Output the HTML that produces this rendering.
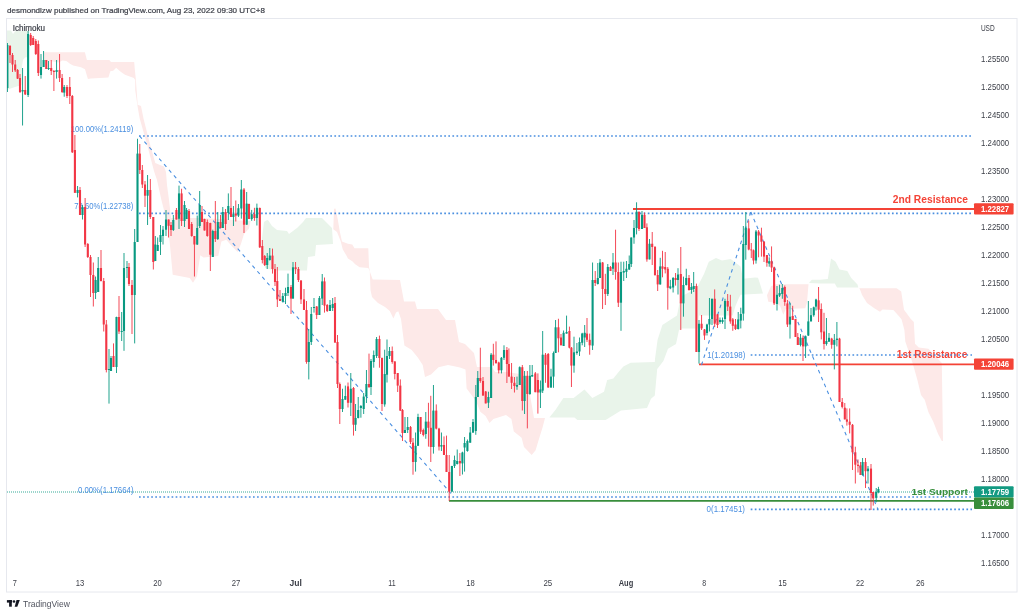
<!DOCTYPE html><html><head><meta charset="utf-8"><title>EURUSD chart</title>
<style>html,body{margin:0;padding:0;background:#fff;}svg{display:block;}</style></head><body>
<svg width="1024" height="616" viewBox="0 0 1024 616" font-family='"Liberation Sans", Arial, sans-serif'>
<rect x="0" y="0" width="1024" height="616" fill="#ffffff"/>
<g>
<polygon points="6.5,30.5 11.0,30.5 13.0,34.0 15.5,31.0 28.5,31.0 28.5,57.0 25.0,57.5 23.0,60.0 22.0,66.0 21.5,85.0 12.0,88.0 6.5,90.0" fill="#e9f4ea"/>
<polygon points="262.0,238.0 264.0,222.0 266.0,220.5 268.0,220.0 272.0,226.0 277.0,230.0 287.0,231.0 289.0,234.0 297.0,228.0 303.0,222.0 306.0,218.0 322.0,218.0 332.0,228.0 333.0,244.0 316.0,245.0 315.0,256.0 308.0,257.0 307.0,270.5 275.0,270.5 265.0,268.0 262.0,250.0" fill="#e9f4ea"/>
<polygon points="549.4,417.5 555.6,409.7 563.4,398.0 573.6,398.0 584.5,389.4 592.3,398.0 604.0,391.7 607.2,380.0 613.4,378.4 619.0,371.4 623.4,366.6 630.6,362.8 654.8,362.0 655.0,359.0 657.6,339.8 662.4,325.0 677.0,315.4 679.5,303.0 682.0,296.0 696.6,288.5 704.0,274.0 708.8,261.7 716.0,258.0 722.0,260.5 730.7,259.0 740.5,266.6 743.0,278.8 755.0,277.6 758.0,277.7 760.0,283.7 763.0,293.6 740.5,294.7 738.0,299.9 735.3,306.4 732.7,315.5 699.0,315.5 697.7,328.4 682.0,328.4 679.0,330.0 676.0,344.0 668.0,348.8 663.4,361.0 657.2,369.0 654.8,395.6 651.0,398.8 647.0,408.0 621.0,410.5 605.6,420.0 577.5,420.0 574.4,417.5" fill="#e9f4ea"/>
<polygon points="809.0,283.0 811.8,279.8 820.0,279.7 827.8,279.0 831.0,258.6 835.6,261.7 839.5,269.5 847.3,271.0 851.2,278.0 857.5,284.4 858.3,287.5 837.0,287.5 834.8,283.6 820.0,283.4" fill="#e9f4ea"/>
<polygon points="43.9,52.2 84.9,52.2 86.9,60.0 109.3,60.0 111.0,62.0 134.2,62.0 134.8,69.3 135.8,79.0 137.7,104.8 141.0,106.0 143.6,119.0 150.4,145.8 155.3,163.0 160.0,165.0 164.0,166.5 166.0,172.0 167.0,185.0 169.0,200.0 171.0,218.0 197.0,218.0 220.0,219.0 247.0,221.0 250.6,221.0 249.0,228.4 244.0,234.0 241.0,243.8 237.7,252.0 231.2,245.5 226.3,239.8 221.4,241.4 218.2,256.0 203.6,257.6 200.3,255.2 197.0,276.3 193.0,282.8 189.8,278.0 172.7,274.7 170.3,248.7 169.5,240.6 166.0,218.0 161.4,200.0 157.0,180.0 154.3,172.0 152.4,165.0 147.5,146.0 139.7,118.5 137.5,106.0 135.2,90.0 135.2,80.0 133.8,78.0 125.0,74.7 120.0,71.2 116.2,67.8 113.2,70.8 110.3,71.2 108.4,77.6 90.8,78.6 87.9,79.0 85.0,69.3 81.0,67.3 73.2,65.4 70.3,64.0 66.4,61.0 62.5,60.5 58.5,62.5 43.9,60.0" fill="#fde9e8"/>
<polygon points="335.5,208.5 337.7,219.0 339.9,232.0 342.0,241.6 347.9,243.8 352.3,244.5 354.5,248.2 368.3,248.2 369.0,267.0 370.0,272.0 372.7,279.6 400.0,280.0 404.0,301.5 415.0,301.5 417.0,309.0 438.0,309.0 446.0,320.0 455.0,320.0 459.0,342.0 465.0,344.0 474.0,353.0 477.0,367.0 492.0,367.0 495.0,372.0 507.0,372.0 520.0,374.0 530.0,395.0 534.0,418.0 545.0,418.0 542.7,427.0 538.8,439.4 535.6,450.3 531.7,455.0 524.0,447.0 521.6,437.8 513.8,431.6 511.4,419.0 506.0,415.0 493.4,419.0 489.5,423.0 485.6,416.0 480.3,411.7 476.0,401.0 466.6,388.5 465.5,369.5 460.0,367.4 453.0,366.0 448.0,365.0 438.5,367.3 431.0,374.6 425.0,377.0 422.7,365.0 417.8,357.6 411.7,350.0 404.4,345.4 401.0,319.0 398.3,311.2 396.0,312.4 393.4,318.5 389.8,311.0 385.0,307.0 378.0,303.0 372.0,297.0 370.5,290.0 369.8,271.5 368.3,267.9 359.6,267.2 355.2,264.2 352.3,261.3 347.9,258.4 346.4,255.5 342.8,249.6 340.6,240.9 337.0,232.0 333.3,229.2 334.0,208.8" fill="#fde9e8"/>
<polygon points="771.0,286.3 776.0,284.2 808.5,284.2 807.0,302.5 805.3,308.2 785.8,309.0 783.3,314.7 780.0,305.8 773.6,302.5 768.3,301.7 767.0,295.2" fill="#fde9e8"/>
<polygon points="859.0,288.3 896.6,288.3 901.2,291.4 902.8,302.0 904.0,309.7 910.6,318.8 913.8,322.0 915.0,343.8 918.7,347.4 928.4,348.7 941.8,363.0 943.0,441.0 941.8,441.0 938.0,433.8 933.3,421.7 928.4,412.0 924.7,399.8 921.0,395.0 917.4,380.0 912.6,363.0 905.3,341.4 904.4,330.0 901.6,319.5 899.7,317.0 893.4,310.0 882.5,309.4 880.0,311.7 874.7,308.6 867.0,303.0 862.2,295.3 859.8,289.0" fill="#fde9e8"/>
</g>
<line x1="7" y1="492" x2="974" y2="492" stroke="#089981" stroke-width="1.8" stroke-dasharray="1,1" opacity="0.4"/>
<line x1="633" y1="209" x2="974" y2="209" stroke="#f44336" stroke-width="1.8"/>
<line x1="699" y1="364.3" x2="974" y2="364.3" stroke="#f44336" stroke-width="1.8"/>
<line x1="449" y1="500.8" x2="974" y2="500.8" stroke="#388e3c" stroke-width="1.8"/>
<text x="968" y="202.8" font-size="10.0" fill="#f44336" text-anchor="end" font-weight="bold" textLength="75.2" lengthAdjust="spacingAndGlyphs">2nd Resistance</text>
<text x="967.3" y="358.2" font-size="10.0" fill="#f44336" text-anchor="end" font-weight="bold" textLength="70.5" lengthAdjust="spacingAndGlyphs">1st Resistance</text>
<text x="967.8" y="494.9" font-size="9.7" fill="#388e3c" text-anchor="end" font-weight="bold" textLength="56.3" lengthAdjust="spacingAndGlyphs">1st Support</text>
<line x1="139" y1="136" x2="972" y2="136" stroke="#4a8fe0" stroke-width="1.7" stroke-dasharray="1.7,2.37" opacity="1"/>
<line x1="139" y1="213.3" x2="972" y2="213.3" stroke="#4a8fe0" stroke-width="1.7" stroke-dasharray="1.7,2.37" opacity="1"/>
<line x1="139" y1="497" x2="972" y2="497" stroke="#4a8fe0" stroke-width="1.7" stroke-dasharray="1.7,2.37" opacity="1"/>
<line x1="750.7" y1="355" x2="972" y2="355" stroke="#4a8fe0" stroke-width="1.7" stroke-dasharray="1.7,2.37" opacity="1"/>
<line x1="750.7" y1="509.3" x2="972" y2="509.3" stroke="#4a8fe0" stroke-width="1.7" stroke-dasharray="1.7,2.37" opacity="1"/>
<polyline points="139.5,136 451,493.5" fill="none" stroke="#4a8fe0" stroke-width="1.1" stroke-dasharray="3.6,3.875"/>
<polyline points="701.5,365 750.8,212" fill="none" stroke="#4a8fe0" stroke-width="1.1" stroke-dasharray="3.6,3.875"/>
<polyline points="750.8,212 877.8,509" fill="none" stroke="#4a8fe0" stroke-width="1.1" stroke-dasharray="3.6,3.875"/>
<text x="133.3" y="131.8" font-size="8.6" fill="#4a8fe0" text-anchor="end" font-weight="normal" textLength="62.5" lengthAdjust="spacingAndGlyphs">100.00%(1.24119)</text>
<text x="133.3" y="209.2" font-size="8.6" fill="#4a8fe0" text-anchor="end" font-weight="normal" textLength="59" lengthAdjust="spacingAndGlyphs">78.60%(1.22738)</text>
<text x="133.5" y="493.3" font-size="8.6" fill="#4a8fe0" text-anchor="end" font-weight="normal" textLength="55.6" lengthAdjust="spacingAndGlyphs">0.00%(1.17664)</text>
<text x="707.2" y="357.7" font-size="8.5" fill="#4a8fe0" text-anchor="start" font-weight="normal" textLength="38.1" lengthAdjust="spacingAndGlyphs">1(1.20198)</text>
<text x="706.6" y="512.1" font-size="8.5" fill="#4a8fe0" text-anchor="start" font-weight="normal" textLength="38.4" lengthAdjust="spacingAndGlyphs">0(1.17451)</text>
<g>
<rect x="6.95" y="43.00" width="0.9" height="49.00" fill="#089981"/>
<rect x="6.35" y="45.00" width="2.1" height="43.00" fill="#089981"/>
<rect x="9.55" y="45.00" width="0.9" height="18.00" fill="#f23645"/>
<rect x="8.95" y="46.00" width="2.1" height="9.00" fill="#f23645"/>
<rect x="12.05" y="53.00" width="0.9" height="19.00" fill="#f23645"/>
<rect x="11.45" y="55.00" width="2.1" height="9.50" fill="#f23645"/>
<rect x="14.75" y="60.00" width="0.9" height="12.00" fill="#f23645"/>
<rect x="14.15" y="64.50" width="2.1" height="5.90" fill="#f23645"/>
<rect x="17.15" y="69.00" width="0.9" height="10.00" fill="#f23645"/>
<rect x="16.55" y="70.00" width="2.1" height="8.60" fill="#f23645"/>
<rect x="19.55" y="74.00" width="0.9" height="19.00" fill="#f23645"/>
<rect x="18.95" y="78.00" width="2.1" height="14.00" fill="#f23645"/>
<rect x="22.15" y="68.00" width="0.9" height="57.50" fill="#089981"/>
<rect x="21.55" y="90.00" width="2.1" height="1.50" fill="#089981"/>
<rect x="24.75" y="76.00" width="0.9" height="19.00" fill="#f23645"/>
<rect x="24.15" y="90.00" width="2.1" height="4.40" fill="#f23645"/>
<rect x="27.65" y="31.00" width="0.9" height="66.00" fill="#089981"/>
<rect x="27.05" y="34.00" width="2.1" height="61.00" fill="#089981"/>
<rect x="30.25" y="33.00" width="0.9" height="13.00" fill="#f23645"/>
<rect x="29.65" y="35.00" width="2.1" height="10.00" fill="#f23645"/>
<rect x="32.75" y="36.00" width="0.9" height="9.00" fill="#f23645"/>
<rect x="32.15" y="38.00" width="2.1" height="7.00" fill="#f23645"/>
<rect x="35.35" y="39.00" width="0.9" height="16.00" fill="#f23645"/>
<rect x="34.75" y="41.00" width="2.1" height="13.00" fill="#f23645"/>
<rect x="37.85" y="40.50" width="0.9" height="35.50" fill="#f23645"/>
<rect x="37.25" y="44.00" width="2.1" height="29.00" fill="#f23645"/>
<rect x="40.55" y="54.00" width="0.9" height="24.60" fill="#089981"/>
<rect x="39.95" y="67.00" width="2.1" height="8.00" fill="#089981"/>
<rect x="43.15" y="51.00" width="0.9" height="16.00" fill="#089981"/>
<rect x="42.55" y="60.00" width="2.1" height="7.00" fill="#089981"/>
<rect x="45.85" y="60.00" width="0.9" height="9.00" fill="#f23645"/>
<rect x="45.25" y="60.00" width="2.1" height="9.00" fill="#f23645"/>
<rect x="48.15" y="61.00" width="0.9" height="9.00" fill="#089981"/>
<rect x="47.55" y="68.00" width="2.1" height="1.00" fill="#089981"/>
<rect x="50.75" y="60.00" width="0.9" height="15.00" fill="#f23645"/>
<rect x="50.15" y="68.00" width="2.1" height="3.00" fill="#f23645"/>
<rect x="53.45" y="70.00" width="0.9" height="21.00" fill="#f23645"/>
<rect x="52.85" y="71.00" width="2.1" height="1.00" fill="#f23645"/>
<rect x="56.15" y="60.00" width="0.9" height="18.60" fill="#089981"/>
<rect x="55.55" y="70.00" width="2.1" height="2.00" fill="#089981"/>
<rect x="59.15" y="54.00" width="0.9" height="28.00" fill="#f23645"/>
<rect x="58.55" y="70.00" width="2.1" height="8.00" fill="#f23645"/>
<rect x="61.65" y="74.00" width="0.9" height="19.00" fill="#f23645"/>
<rect x="61.05" y="78.00" width="2.1" height="14.00" fill="#f23645"/>
<rect x="63.75" y="85.00" width="0.9" height="11.70" fill="#089981"/>
<rect x="63.15" y="87.00" width="2.1" height="5.60" fill="#089981"/>
<rect x="66.55" y="85.00" width="0.9" height="13.00" fill="#f23645"/>
<rect x="65.95" y="87.00" width="2.1" height="9.00" fill="#f23645"/>
<rect x="69.35" y="77.00" width="0.9" height="27.00" fill="#f23645"/>
<rect x="68.75" y="87.00" width="2.1" height="9.00" fill="#f23645"/>
<rect x="71.85" y="95.00" width="0.9" height="58.00" fill="#f23645"/>
<rect x="71.25" y="96.00" width="2.1" height="56.30" fill="#f23645"/>
<rect x="74.45" y="135.00" width="0.9" height="58.00" fill="#f23645"/>
<rect x="73.85" y="150.00" width="2.1" height="42.80" fill="#f23645"/>
<rect x="77.15" y="186.00" width="0.9" height="11.40" fill="#089981"/>
<rect x="76.55" y="190.00" width="2.1" height="3.00" fill="#089981"/>
<rect x="79.55" y="187.00" width="0.9" height="28.00" fill="#f23645"/>
<rect x="78.95" y="190.00" width="2.1" height="25.00" fill="#f23645"/>
<rect x="82.05" y="205.00" width="0.9" height="14.50" fill="#089981"/>
<rect x="81.45" y="207.00" width="2.1" height="8.00" fill="#089981"/>
<rect x="84.65" y="198.00" width="0.9" height="49.00" fill="#f23645"/>
<rect x="84.05" y="207.00" width="2.1" height="37.50" fill="#f23645"/>
<rect x="87.35" y="243.00" width="0.9" height="15.00" fill="#f23645"/>
<rect x="86.75" y="244.00" width="2.1" height="13.00" fill="#f23645"/>
<rect x="90.05" y="255.00" width="0.9" height="42.00" fill="#f23645"/>
<rect x="89.45" y="257.00" width="2.1" height="18.00" fill="#f23645"/>
<rect x="92.85" y="262.50" width="0.9" height="44.00" fill="#f23645"/>
<rect x="92.25" y="275.00" width="2.1" height="18.00" fill="#f23645"/>
<rect x="95.15" y="276.50" width="0.9" height="22.50" fill="#089981"/>
<rect x="94.55" y="280.00" width="2.1" height="13.00" fill="#089981"/>
<rect x="97.75" y="257.00" width="0.9" height="35.00" fill="#089981"/>
<rect x="97.15" y="268.00" width="2.1" height="24.00" fill="#089981"/>
<rect x="100.55" y="250.00" width="0.9" height="31.50" fill="#f23645"/>
<rect x="99.95" y="268.00" width="2.1" height="13.00" fill="#f23645"/>
<rect x="103.30" y="278.00" width="0.9" height="53.50" fill="#f23645"/>
<rect x="102.70" y="281.00" width="2.1" height="43.50" fill="#f23645"/>
<rect x="105.85" y="320.00" width="0.9" height="52.40" fill="#f23645"/>
<rect x="105.25" y="324.50" width="2.1" height="45.50" fill="#f23645"/>
<rect x="108.55" y="349.00" width="0.9" height="54.60" fill="#089981"/>
<rect x="107.95" y="369.00" width="2.1" height="1.00" fill="#089981"/>
<rect x="110.55" y="356.00" width="0.9" height="15.00" fill="#089981"/>
<rect x="109.95" y="358.00" width="2.1" height="13.00" fill="#089981"/>
<rect x="113.05" y="343.40" width="0.9" height="23.60" fill="#f23645"/>
<rect x="112.45" y="356.00" width="2.1" height="11.00" fill="#f23645"/>
<rect x="116.05" y="316.70" width="0.9" height="56.30" fill="#089981"/>
<rect x="115.45" y="317.00" width="2.1" height="50.00" fill="#089981"/>
<rect x="118.55" y="296.00" width="0.9" height="38.00" fill="#f23645"/>
<rect x="117.95" y="317.00" width="2.1" height="14.50" fill="#f23645"/>
<rect x="121.25" y="312.00" width="0.9" height="29.00" fill="#089981"/>
<rect x="120.65" y="331.00" width="2.1" height="1.00" fill="#089981"/>
<rect x="123.55" y="253.00" width="0.9" height="97.80" fill="#089981"/>
<rect x="122.95" y="268.00" width="2.1" height="63.00" fill="#089981"/>
<rect x="126.55" y="261.00" width="0.9" height="17.00" fill="#089981"/>
<rect x="125.95" y="267.00" width="2.1" height="1.00" fill="#089981"/>
<rect x="128.55" y="263.00" width="0.9" height="23.00" fill="#f23645"/>
<rect x="127.95" y="267.00" width="2.1" height="17.00" fill="#f23645"/>
<rect x="131.55" y="280.00" width="0.9" height="54.00" fill="#f23645"/>
<rect x="130.95" y="285.00" width="2.1" height="10.00" fill="#f23645"/>
<rect x="134.25" y="229.00" width="0.9" height="114.40" fill="#089981"/>
<rect x="133.65" y="242.00" width="2.1" height="53.00" fill="#089981"/>
<rect x="137.05" y="138.75" width="0.9" height="103.25" fill="#089981"/>
<rect x="136.45" y="153.60" width="2.1" height="88.40" fill="#089981"/>
<rect x="139.35" y="144.00" width="0.9" height="30.00" fill="#f23645"/>
<rect x="138.75" y="153.60" width="2.1" height="16.40" fill="#f23645"/>
<rect x="141.85" y="165.00" width="0.9" height="23.00" fill="#f23645"/>
<rect x="141.25" y="170.00" width="2.1" height="14.50" fill="#f23645"/>
<rect x="144.55" y="181.00" width="0.9" height="26.00" fill="#f23645"/>
<rect x="143.95" y="184.50" width="2.1" height="11.20" fill="#f23645"/>
<rect x="147.15" y="175.00" width="0.9" height="50.00" fill="#089981"/>
<rect x="146.55" y="190.00" width="2.1" height="5.70" fill="#089981"/>
<rect x="149.85" y="179.00" width="0.9" height="40.00" fill="#f23645"/>
<rect x="149.25" y="190.00" width="2.1" height="27.00" fill="#f23645"/>
<rect x="152.85" y="217.00" width="0.9" height="52.50" fill="#f23645"/>
<rect x="152.25" y="217.00" width="2.1" height="45.00" fill="#f23645"/>
<rect x="154.85" y="236.00" width="0.9" height="25.00" fill="#089981"/>
<rect x="154.25" y="244.50" width="2.1" height="16.50" fill="#089981"/>
<rect x="157.25" y="237.50" width="0.9" height="13.50" fill="#089981"/>
<rect x="156.65" y="245.00" width="2.1" height="6.00" fill="#089981"/>
<rect x="160.05" y="225.00" width="0.9" height="30.00" fill="#089981"/>
<rect x="159.45" y="235.00" width="2.1" height="7.00" fill="#089981"/>
<rect x="162.55" y="226.00" width="0.9" height="18.50" fill="#089981"/>
<rect x="161.95" y="229.70" width="2.1" height="6.30" fill="#089981"/>
<rect x="165.55" y="210.00" width="0.9" height="26.00" fill="#089981"/>
<rect x="164.95" y="219.50" width="2.1" height="10.20" fill="#089981"/>
<rect x="168.15" y="219.50" width="0.9" height="18.00" fill="#f23645"/>
<rect x="167.55" y="219.50" width="2.1" height="6.30" fill="#f23645"/>
<rect x="170.55" y="222.00" width="0.9" height="14.00" fill="#f23645"/>
<rect x="169.95" y="225.00" width="2.1" height="5.00" fill="#f23645"/>
<rect x="172.85" y="215.00" width="0.9" height="16.00" fill="#089981"/>
<rect x="172.25" y="220.00" width="2.1" height="10.00" fill="#089981"/>
<rect x="175.95" y="208.00" width="0.9" height="11.50" fill="#f23645"/>
<rect x="175.35" y="210.00" width="2.1" height="9.50" fill="#f23645"/>
<rect x="178.55" y="185.60" width="0.9" height="43.40" fill="#089981"/>
<rect x="177.95" y="193.40" width="2.1" height="25.35" fill="#089981"/>
<rect x="181.15" y="188.75" width="0.9" height="37.25" fill="#f23645"/>
<rect x="180.55" y="193.40" width="2.1" height="27.60" fill="#f23645"/>
<rect x="184.05" y="201.00" width="0.9" height="26.00" fill="#089981"/>
<rect x="183.45" y="205.00" width="2.1" height="16.00" fill="#089981"/>
<rect x="186.15" y="208.00" width="0.9" height="11.00" fill="#089981"/>
<rect x="185.55" y="210.00" width="2.1" height="9.00" fill="#089981"/>
<rect x="188.55" y="209.00" width="0.9" height="20.00" fill="#f23645"/>
<rect x="187.95" y="211.00" width="2.1" height="18.00" fill="#f23645"/>
<rect x="191.25" y="222.00" width="0.9" height="14.70" fill="#f23645"/>
<rect x="190.65" y="224.00" width="2.1" height="12.00" fill="#f23645"/>
<rect x="193.95" y="236.00" width="0.9" height="40.50" fill="#f23645"/>
<rect x="193.35" y="236.00" width="2.1" height="8.50" fill="#f23645"/>
<rect x="196.75" y="215.60" width="0.9" height="29.40" fill="#089981"/>
<rect x="196.15" y="228.00" width="2.1" height="16.50" fill="#089981"/>
<rect x="199.25" y="191.00" width="0.9" height="37.00" fill="#089981"/>
<rect x="198.65" y="205.00" width="2.1" height="21.00" fill="#089981"/>
<rect x="201.55" y="206.00" width="0.9" height="16.00" fill="#f23645"/>
<rect x="200.95" y="212.00" width="2.1" height="10.00" fill="#f23645"/>
<rect x="204.05" y="218.75" width="0.9" height="11.75" fill="#f23645"/>
<rect x="203.45" y="219.00" width="2.1" height="11.50" fill="#f23645"/>
<rect x="206.85" y="219.50" width="0.9" height="17.20" fill="#f23645"/>
<rect x="206.25" y="222.00" width="2.1" height="14.00" fill="#f23645"/>
<rect x="209.85" y="222.70" width="0.9" height="48.30" fill="#f23645"/>
<rect x="209.25" y="223.00" width="2.1" height="31.70" fill="#f23645"/>
<rect x="212.35" y="229.70" width="0.9" height="27.30" fill="#089981"/>
<rect x="211.75" y="231.00" width="2.1" height="26.00" fill="#089981"/>
<rect x="214.85" y="201.00" width="0.9" height="41.00" fill="#f23645"/>
<rect x="214.25" y="231.00" width="2.1" height="8.00" fill="#f23645"/>
<rect x="217.35" y="212.00" width="0.9" height="28.00" fill="#089981"/>
<rect x="216.75" y="222.00" width="2.1" height="17.00" fill="#089981"/>
<rect x="220.05" y="215.00" width="0.9" height="13.00" fill="#f23645"/>
<rect x="219.45" y="222.00" width="2.1" height="6.00" fill="#f23645"/>
<rect x="222.35" y="207.00" width="0.9" height="21.00" fill="#089981"/>
<rect x="221.75" y="212.00" width="2.1" height="16.00" fill="#089981"/>
<rect x="225.15" y="209.00" width="0.9" height="21.00" fill="#f23645"/>
<rect x="224.55" y="212.00" width="2.1" height="12.00" fill="#f23645"/>
<rect x="227.85" y="193.40" width="0.9" height="26.60" fill="#089981"/>
<rect x="227.25" y="206.00" width="2.1" height="7.00" fill="#089981"/>
<rect x="230.55" y="187.00" width="0.9" height="30.00" fill="#f23645"/>
<rect x="229.95" y="208.00" width="2.1" height="9.00" fill="#f23645"/>
<rect x="232.95" y="206.00" width="0.9" height="20.00" fill="#089981"/>
<rect x="232.35" y="214.20" width="2.1" height="2.80" fill="#089981"/>
<rect x="235.35" y="200.50" width="0.9" height="21.00" fill="#f23645"/>
<rect x="234.75" y="213.50" width="2.1" height="2.10" fill="#f23645"/>
<rect x="237.95" y="204.00" width="0.9" height="13.00" fill="#089981"/>
<rect x="237.35" y="208.20" width="2.1" height="7.40" fill="#089981"/>
<rect x="240.85" y="180.00" width="0.9" height="38.70" fill="#089981"/>
<rect x="240.25" y="189.50" width="2.1" height="19.00" fill="#089981"/>
<rect x="243.55" y="188.00" width="0.9" height="45.00" fill="#f23645"/>
<rect x="242.95" y="189.50" width="2.1" height="35.20" fill="#f23645"/>
<rect x="246.25" y="192.00" width="0.9" height="32.70" fill="#089981"/>
<rect x="245.65" y="203.60" width="2.1" height="21.10" fill="#089981"/>
<rect x="248.55" y="203.60" width="0.9" height="15.40" fill="#f23645"/>
<rect x="247.95" y="204.00" width="2.1" height="15.00" fill="#f23645"/>
<rect x="251.25" y="209.90" width="0.9" height="10.90" fill="#089981"/>
<rect x="250.65" y="214.20" width="2.1" height="4.90" fill="#089981"/>
<rect x="253.95" y="207.80" width="0.9" height="13.00" fill="#f23645"/>
<rect x="253.35" y="214.20" width="2.1" height="3.80" fill="#f23645"/>
<rect x="256.45" y="203.60" width="0.9" height="21.90" fill="#089981"/>
<rect x="255.85" y="207.80" width="2.1" height="10.20" fill="#089981"/>
<rect x="259.35" y="207.50" width="0.9" height="40.50" fill="#f23645"/>
<rect x="258.75" y="208.00" width="2.1" height="39.30" fill="#f23645"/>
<rect x="261.85" y="240.00" width="0.9" height="23.40" fill="#f23645"/>
<rect x="261.25" y="246.00" width="2.1" height="14.00" fill="#f23645"/>
<rect x="264.25" y="255.00" width="0.9" height="11.00" fill="#f23645"/>
<rect x="263.65" y="256.00" width="2.1" height="9.00" fill="#f23645"/>
<rect x="266.75" y="253.00" width="0.9" height="16.00" fill="#089981"/>
<rect x="266.15" y="258.00" width="2.1" height="7.00" fill="#089981"/>
<rect x="269.35" y="248.00" width="0.9" height="12.60" fill="#089981"/>
<rect x="268.75" y="255.60" width="2.1" height="4.40" fill="#089981"/>
<rect x="272.05" y="248.60" width="0.9" height="25.00" fill="#f23645"/>
<rect x="271.45" y="255.60" width="2.1" height="13.40" fill="#f23645"/>
<rect x="274.55" y="264.00" width="0.9" height="22.00" fill="#f23645"/>
<rect x="273.95" y="269.00" width="2.1" height="13.00" fill="#f23645"/>
<rect x="276.85" y="267.00" width="0.9" height="40.00" fill="#f23645"/>
<rect x="276.25" y="281.00" width="2.1" height="18.40" fill="#f23645"/>
<rect x="279.55" y="290.00" width="0.9" height="11.00" fill="#f23645"/>
<rect x="278.95" y="299.00" width="2.1" height="2.00" fill="#f23645"/>
<rect x="282.35" y="293.00" width="0.9" height="9.50" fill="#089981"/>
<rect x="281.75" y="296.00" width="2.1" height="5.70" fill="#089981"/>
<rect x="285.05" y="287.70" width="0.9" height="16.30" fill="#089981"/>
<rect x="284.45" y="293.00" width="2.1" height="3.00" fill="#089981"/>
<rect x="287.55" y="273.60" width="0.9" height="22.40" fill="#089981"/>
<rect x="286.95" y="287.00" width="2.1" height="6.00" fill="#089981"/>
<rect x="290.55" y="285.00" width="0.9" height="29.00" fill="#f23645"/>
<rect x="289.95" y="287.00" width="2.1" height="11.60" fill="#f23645"/>
<rect x="292.55" y="262.00" width="0.9" height="36.60" fill="#089981"/>
<rect x="291.95" y="267.30" width="2.1" height="31.30" fill="#089981"/>
<rect x="295.15" y="262.00" width="0.9" height="12.00" fill="#f23645"/>
<rect x="294.55" y="267.30" width="2.1" height="1.70" fill="#f23645"/>
<rect x="297.95" y="267.00" width="0.9" height="15.00" fill="#f23645"/>
<rect x="297.35" y="269.00" width="2.1" height="11.00" fill="#f23645"/>
<rect x="300.55" y="280.00" width="0.9" height="24.00" fill="#f23645"/>
<rect x="299.95" y="280.60" width="2.1" height="18.80" fill="#f23645"/>
<rect x="303.55" y="289.00" width="0.9" height="21.00" fill="#f23645"/>
<rect x="302.95" y="299.40" width="2.1" height="10.60" fill="#f23645"/>
<rect x="306.05" y="301.00" width="0.9" height="62.75" fill="#f23645"/>
<rect x="305.45" y="310.00" width="2.1" height="52.00" fill="#f23645"/>
<rect x="308.35" y="329.00" width="0.9" height="50.40" fill="#089981"/>
<rect x="307.75" y="342.00" width="2.1" height="20.00" fill="#089981"/>
<rect x="310.80" y="307.00" width="0.9" height="38.00" fill="#089981"/>
<rect x="310.20" y="314.00" width="2.1" height="28.00" fill="#089981"/>
<rect x="313.55" y="298.00" width="0.9" height="14.60" fill="#089981"/>
<rect x="312.95" y="307.00" width="2.1" height="1.00" fill="#089981"/>
<rect x="316.25" y="306.00" width="0.9" height="13.00" fill="#f23645"/>
<rect x="315.65" y="306.50" width="2.1" height="8.50" fill="#f23645"/>
<rect x="318.95" y="296.00" width="0.9" height="19.00" fill="#089981"/>
<rect x="318.35" y="298.00" width="2.1" height="17.00" fill="#089981"/>
<rect x="321.75" y="274.00" width="0.9" height="31.00" fill="#089981"/>
<rect x="321.15" y="281.40" width="2.1" height="17.20" fill="#089981"/>
<rect x="324.05" y="277.50" width="0.9" height="35.10" fill="#f23645"/>
<rect x="323.45" y="281.40" width="2.1" height="24.20" fill="#f23645"/>
<rect x="326.75" y="304.00" width="0.9" height="8.00" fill="#f23645"/>
<rect x="326.15" y="305.00" width="2.1" height="6.00" fill="#f23645"/>
<rect x="329.55" y="300.00" width="0.9" height="11.00" fill="#089981"/>
<rect x="328.95" y="305.00" width="2.1" height="6.00" fill="#089981"/>
<rect x="332.25" y="298.00" width="0.9" height="13.00" fill="#089981"/>
<rect x="331.65" y="304.00" width="2.1" height="4.00" fill="#089981"/>
<rect x="334.55" y="297.00" width="0.9" height="45.60" fill="#f23645"/>
<rect x="333.95" y="303.00" width="2.1" height="39.60" fill="#f23645"/>
<rect x="337.05" y="335.00" width="0.9" height="53.00" fill="#f23645"/>
<rect x="336.45" y="342.00" width="2.1" height="42.00" fill="#f23645"/>
<rect x="339.35" y="382.50" width="0.9" height="41.50" fill="#f23645"/>
<rect x="338.75" y="384.00" width="2.1" height="25.00" fill="#f23645"/>
<rect x="342.05" y="388.75" width="0.9" height="23.25" fill="#089981"/>
<rect x="341.45" y="399.00" width="2.1" height="10.00" fill="#089981"/>
<rect x="344.85" y="385.60" width="0.9" height="14.10" fill="#089981"/>
<rect x="344.25" y="396.00" width="2.1" height="3.70" fill="#089981"/>
<rect x="347.55" y="382.50" width="0.9" height="25.00" fill="#f23645"/>
<rect x="346.95" y="386.40" width="2.1" height="16.40" fill="#f23645"/>
<rect x="350.35" y="373.00" width="0.9" height="43.00" fill="#089981"/>
<rect x="349.75" y="388.75" width="2.1" height="14.05" fill="#089981"/>
<rect x="353.05" y="387.00" width="0.9" height="48.60" fill="#f23645"/>
<rect x="352.45" y="388.00" width="2.1" height="36.70" fill="#f23645"/>
<rect x="355.15" y="404.00" width="0.9" height="27.00" fill="#089981"/>
<rect x="354.55" y="418.00" width="2.1" height="6.70" fill="#089981"/>
<rect x="357.75" y="397.00" width="0.9" height="21.40" fill="#089981"/>
<rect x="357.15" y="410.00" width="2.1" height="8.00" fill="#089981"/>
<rect x="360.45" y="405.00" width="0.9" height="12.70" fill="#089981"/>
<rect x="359.85" y="406.00" width="2.1" height="2.00" fill="#089981"/>
<rect x="363.25" y="393.00" width="0.9" height="21.00" fill="#089981"/>
<rect x="362.65" y="396.60" width="2.1" height="12.40" fill="#089981"/>
<rect x="365.95" y="370.00" width="0.9" height="33.00" fill="#089981"/>
<rect x="365.35" y="384.00" width="2.1" height="12.50" fill="#089981"/>
<rect x="368.55" y="353.60" width="0.9" height="34.40" fill="#f23645"/>
<rect x="367.95" y="384.00" width="2.1" height="3.00" fill="#f23645"/>
<rect x="370.55" y="359.00" width="0.9" height="36.00" fill="#089981"/>
<rect x="369.95" y="361.00" width="2.1" height="26.00" fill="#089981"/>
<rect x="373.30" y="350.50" width="0.9" height="17.20" fill="#089981"/>
<rect x="372.70" y="355.00" width="2.1" height="7.00" fill="#089981"/>
<rect x="376.15" y="337.00" width="0.9" height="21.00" fill="#089981"/>
<rect x="375.55" y="339.00" width="2.1" height="17.00" fill="#089981"/>
<rect x="378.95" y="335.60" width="0.9" height="32.10" fill="#f23645"/>
<rect x="378.35" y="339.00" width="2.1" height="19.00" fill="#f23645"/>
<rect x="381.55" y="357.50" width="0.9" height="53.50" fill="#f23645"/>
<rect x="380.95" y="358.00" width="2.1" height="46.00" fill="#f23645"/>
<rect x="384.25" y="349.70" width="0.9" height="57.00" fill="#089981"/>
<rect x="383.65" y="374.00" width="2.1" height="30.40" fill="#089981"/>
<rect x="386.55" y="339.50" width="0.9" height="43.00" fill="#089981"/>
<rect x="385.95" y="356.00" width="2.1" height="18.70" fill="#089981"/>
<rect x="389.05" y="347.00" width="0.9" height="12.00" fill="#089981"/>
<rect x="388.45" y="351.00" width="2.1" height="5.00" fill="#089981"/>
<rect x="391.75" y="346.50" width="0.9" height="17.25" fill="#f23645"/>
<rect x="391.15" y="351.00" width="2.1" height="11.00" fill="#f23645"/>
<rect x="394.35" y="361.40" width="0.9" height="18.00" fill="#f23645"/>
<rect x="393.75" y="361.40" width="2.1" height="12.60" fill="#f23645"/>
<rect x="397.25" y="373.00" width="0.9" height="19.00" fill="#f23645"/>
<rect x="396.65" y="373.00" width="2.1" height="12.60" fill="#f23645"/>
<rect x="399.85" y="379.40" width="0.9" height="31.60" fill="#f23645"/>
<rect x="399.25" y="385.60" width="2.1" height="25.00" fill="#f23645"/>
<rect x="402.05" y="409.00" width="0.9" height="32.00" fill="#f23645"/>
<rect x="401.45" y="410.00" width="2.1" height="23.00" fill="#f23645"/>
<rect x="404.55" y="417.00" width="0.9" height="16.00" fill="#089981"/>
<rect x="403.95" y="430.00" width="2.1" height="3.00" fill="#089981"/>
<rect x="407.25" y="417.00" width="0.9" height="16.00" fill="#089981"/>
<rect x="406.65" y="427.00" width="2.1" height="3.00" fill="#089981"/>
<rect x="410.05" y="426.00" width="0.9" height="18.00" fill="#f23645"/>
<rect x="409.45" y="427.00" width="2.1" height="15.00" fill="#f23645"/>
<rect x="412.55" y="438.00" width="0.9" height="36.70" fill="#f23645"/>
<rect x="411.95" y="442.70" width="2.1" height="19.30" fill="#f23645"/>
<rect x="415.15" y="432.50" width="0.9" height="39.10" fill="#089981"/>
<rect x="414.55" y="445.80" width="2.1" height="16.20" fill="#089981"/>
<rect x="417.55" y="413.75" width="0.9" height="32.05" fill="#089981"/>
<rect x="416.95" y="417.00" width="2.1" height="28.80" fill="#089981"/>
<rect x="420.15" y="417.00" width="0.9" height="17.00" fill="#f23645"/>
<rect x="419.55" y="417.00" width="2.1" height="14.70" fill="#f23645"/>
<rect x="422.85" y="428.60" width="0.9" height="7.80" fill="#f23645"/>
<rect x="422.25" y="430.00" width="2.1" height="5.00" fill="#f23645"/>
<rect x="425.35" y="412.00" width="0.9" height="26.75" fill="#089981"/>
<rect x="424.75" y="421.60" width="2.1" height="12.40" fill="#089981"/>
<rect x="427.95" y="402.80" width="0.9" height="43.80" fill="#f23645"/>
<rect x="427.35" y="421.60" width="2.1" height="6.20" fill="#f23645"/>
<rect x="430.35" y="395.80" width="0.9" height="66.20" fill="#f23645"/>
<rect x="429.75" y="427.80" width="2.1" height="19.20" fill="#f23645"/>
<rect x="432.95" y="385.00" width="0.9" height="68.60" fill="#089981"/>
<rect x="432.35" y="410.60" width="2.1" height="36.40" fill="#089981"/>
<rect x="435.80" y="404.40" width="0.9" height="25.00" fill="#f23645"/>
<rect x="435.20" y="410.60" width="2.1" height="18.00" fill="#f23645"/>
<rect x="438.55" y="427.80" width="0.9" height="22.70" fill="#f23645"/>
<rect x="437.95" y="428.60" width="2.1" height="18.00" fill="#f23645"/>
<rect x="440.95" y="432.50" width="0.9" height="18.50" fill="#089981"/>
<rect x="440.35" y="445.00" width="2.1" height="1.60" fill="#089981"/>
<rect x="443.55" y="436.40" width="0.9" height="18.60" fill="#f23645"/>
<rect x="442.95" y="445.00" width="2.1" height="10.00" fill="#f23645"/>
<rect x="446.05" y="435.60" width="0.9" height="36.40" fill="#f23645"/>
<rect x="445.45" y="455.00" width="2.1" height="17.00" fill="#f23645"/>
<rect x="448.75" y="455.00" width="0.9" height="46.00" fill="#f23645"/>
<rect x="448.15" y="472.00" width="2.1" height="19.60" fill="#f23645"/>
<rect x="451.45" y="465.80" width="0.9" height="25.80" fill="#089981"/>
<rect x="450.85" y="466.00" width="2.1" height="25.60" fill="#089981"/>
<rect x="454.05" y="455.60" width="0.9" height="12.40" fill="#089981"/>
<rect x="453.45" y="460.00" width="2.1" height="6.00" fill="#089981"/>
<rect x="456.75" y="449.50" width="0.9" height="15.00" fill="#089981"/>
<rect x="456.15" y="461.00" width="2.1" height="3.00" fill="#089981"/>
<rect x="459.45" y="453.00" width="0.9" height="23.00" fill="#f23645"/>
<rect x="458.85" y="461.00" width="2.1" height="2.40" fill="#f23645"/>
<rect x="461.95" y="451.70" width="0.9" height="22.80" fill="#089981"/>
<rect x="461.35" y="452.50" width="2.1" height="10.90" fill="#089981"/>
<rect x="464.15" y="437.00" width="0.9" height="34.60" fill="#089981"/>
<rect x="463.55" y="443.00" width="2.1" height="4.50" fill="#089981"/>
<rect x="466.95" y="439.50" width="0.9" height="12.20" fill="#089981"/>
<rect x="466.35" y="441.00" width="2.1" height="10.00" fill="#089981"/>
<rect x="469.75" y="427.00" width="0.9" height="15.70" fill="#089981"/>
<rect x="469.15" y="432.50" width="2.1" height="10.20" fill="#089981"/>
<rect x="472.55" y="419.00" width="0.9" height="14.00" fill="#089981"/>
<rect x="471.95" y="422.00" width="2.1" height="10.50" fill="#089981"/>
<rect x="475.35" y="385.00" width="0.9" height="49.80" fill="#089981"/>
<rect x="474.75" y="397.00" width="2.1" height="34.00" fill="#089981"/>
<rect x="477.35" y="371.00" width="0.9" height="26.00" fill="#089981"/>
<rect x="476.75" y="378.00" width="2.1" height="19.00" fill="#089981"/>
<rect x="479.85" y="347.70" width="0.9" height="35.10" fill="#f23645"/>
<rect x="479.25" y="378.00" width="2.1" height="3.00" fill="#f23645"/>
<rect x="482.55" y="377.00" width="0.9" height="18.60" fill="#f23645"/>
<rect x="481.95" y="381.00" width="2.1" height="14.60" fill="#f23645"/>
<rect x="485.25" y="391.00" width="0.9" height="12.40" fill="#f23645"/>
<rect x="484.65" y="391.50" width="2.1" height="11.90" fill="#f23645"/>
<rect x="487.95" y="391.70" width="0.9" height="16.30" fill="#089981"/>
<rect x="487.35" y="397.00" width="2.1" height="5.70" fill="#089981"/>
<rect x="490.65" y="353.00" width="0.9" height="45.00" fill="#089981"/>
<rect x="490.05" y="354.70" width="2.1" height="43.30" fill="#089981"/>
<rect x="492.85" y="343.75" width="0.9" height="21.85" fill="#f23645"/>
<rect x="492.25" y="354.70" width="2.1" height="5.30" fill="#f23645"/>
<rect x="495.55" y="341.40" width="0.9" height="21.90" fill="#f23645"/>
<rect x="494.95" y="360.00" width="2.1" height="3.30" fill="#f23645"/>
<rect x="498.30" y="361.70" width="0.9" height="11.70" fill="#f23645"/>
<rect x="497.70" y="362.50" width="2.1" height="7.80" fill="#f23645"/>
<rect x="500.95" y="357.00" width="0.9" height="16.40" fill="#089981"/>
<rect x="500.35" y="357.80" width="2.1" height="12.50" fill="#089981"/>
<rect x="503.55" y="345.30" width="0.9" height="14.70" fill="#089981"/>
<rect x="502.95" y="350.00" width="2.1" height="7.80" fill="#089981"/>
<rect x="506.45" y="347.00" width="0.9" height="36.00" fill="#f23645"/>
<rect x="505.85" y="350.00" width="2.1" height="14.00" fill="#f23645"/>
<rect x="508.45" y="348.40" width="0.9" height="28.20" fill="#f23645"/>
<rect x="507.85" y="364.00" width="2.1" height="12.60" fill="#f23645"/>
<rect x="511.15" y="363.00" width="0.9" height="26.00" fill="#f23645"/>
<rect x="510.55" y="376.60" width="2.1" height="6.20" fill="#f23645"/>
<rect x="513.95" y="377.00" width="0.9" height="15.50" fill="#f23645"/>
<rect x="513.35" y="382.80" width="2.1" height="3.20" fill="#f23645"/>
<rect x="516.55" y="376.60" width="0.9" height="13.20" fill="#089981"/>
<rect x="515.95" y="385.00" width="2.1" height="1.70" fill="#089981"/>
<rect x="519.25" y="366.40" width="0.9" height="18.60" fill="#089981"/>
<rect x="518.65" y="367.20" width="2.1" height="17.80" fill="#089981"/>
<rect x="521.85" y="365.00" width="0.9" height="45.50" fill="#f23645"/>
<rect x="521.25" y="367.20" width="2.1" height="33.80" fill="#f23645"/>
<rect x="524.15" y="371.00" width="0.9" height="43.00" fill="#089981"/>
<rect x="523.55" y="375.80" width="2.1" height="25.20" fill="#089981"/>
<rect x="526.85" y="371.00" width="0.9" height="57.40" fill="#f23645"/>
<rect x="526.25" y="375.80" width="2.1" height="18.20" fill="#f23645"/>
<rect x="529.45" y="365.00" width="0.9" height="29.80" fill="#089981"/>
<rect x="528.85" y="375.80" width="2.1" height="18.20" fill="#089981"/>
<rect x="531.75" y="365.00" width="0.9" height="11.60" fill="#089981"/>
<rect x="531.15" y="375.00" width="2.1" height="1.60" fill="#089981"/>
<rect x="534.85" y="372.00" width="0.9" height="20.20" fill="#f23645"/>
<rect x="534.25" y="373.40" width="2.1" height="18.80" fill="#f23645"/>
<rect x="537.45" y="373.40" width="0.9" height="40.20" fill="#f23645"/>
<rect x="536.85" y="380.00" width="2.1" height="12.50" fill="#f23645"/>
<rect x="539.95" y="380.50" width="0.9" height="27.50" fill="#089981"/>
<rect x="539.35" y="389.40" width="2.1" height="3.10" fill="#089981"/>
<rect x="542.25" y="331.00" width="0.9" height="62.00" fill="#089981"/>
<rect x="541.65" y="354.70" width="2.1" height="35.90" fill="#089981"/>
<rect x="545.05" y="353.00" width="0.9" height="29.80" fill="#f23645"/>
<rect x="544.45" y="354.70" width="2.1" height="10.10" fill="#f23645"/>
<rect x="547.75" y="353.00" width="0.9" height="34.80" fill="#f23645"/>
<rect x="547.15" y="354.00" width="2.1" height="33.50" fill="#f23645"/>
<rect x="550.55" y="368.75" width="0.9" height="19.05" fill="#089981"/>
<rect x="549.95" y="376.60" width="2.1" height="10.90" fill="#089981"/>
<rect x="553.05" y="351.50" width="0.9" height="36.30" fill="#089981"/>
<rect x="552.45" y="353.00" width="2.1" height="23.60" fill="#089981"/>
<rect x="555.15" y="320.00" width="0.9" height="33.00" fill="#089981"/>
<rect x="554.55" y="327.30" width="2.1" height="25.70" fill="#089981"/>
<rect x="557.95" y="318.75" width="0.9" height="33.55" fill="#f23645"/>
<rect x="557.35" y="327.30" width="2.1" height="11.00" fill="#f23645"/>
<rect x="560.55" y="334.00" width="0.9" height="11.30" fill="#f23645"/>
<rect x="559.95" y="337.50" width="2.1" height="7.80" fill="#f23645"/>
<rect x="563.15" y="330.50" width="0.9" height="15.50" fill="#089981"/>
<rect x="562.55" y="332.80" width="2.1" height="13.20" fill="#089981"/>
<rect x="566.15" y="315.60" width="0.9" height="18.00" fill="#089981"/>
<rect x="565.55" y="332.00" width="2.1" height="1.60" fill="#089981"/>
<rect x="568.95" y="326.60" width="0.9" height="21.80" fill="#f23645"/>
<rect x="568.35" y="331.00" width="2.1" height="16.70" fill="#f23645"/>
<rect x="570.95" y="347.00" width="0.9" height="40.00" fill="#f23645"/>
<rect x="570.35" y="347.70" width="2.1" height="17.90" fill="#f23645"/>
<rect x="573.55" y="336.70" width="0.9" height="36.00" fill="#089981"/>
<rect x="572.95" y="352.30" width="2.1" height="13.30" fill="#089981"/>
<rect x="576.45" y="343.00" width="0.9" height="11.70" fill="#089981"/>
<rect x="575.85" y="351.50" width="2.1" height="1.50" fill="#089981"/>
<rect x="579.05" y="337.50" width="0.9" height="18.50" fill="#089981"/>
<rect x="578.45" y="342.00" width="2.1" height="9.50" fill="#089981"/>
<rect x="581.75" y="332.80" width="0.9" height="12.50" fill="#089981"/>
<rect x="581.15" y="333.50" width="2.1" height="9.30" fill="#089981"/>
<rect x="584.25" y="325.00" width="0.9" height="22.00" fill="#089981"/>
<rect x="583.65" y="332.80" width="2.1" height="4.70" fill="#089981"/>
<rect x="586.55" y="318.00" width="0.9" height="24.00" fill="#f23645"/>
<rect x="585.95" y="333.60" width="2.1" height="6.20" fill="#f23645"/>
<rect x="589.25" y="333.60" width="0.9" height="21.10" fill="#f23645"/>
<rect x="588.65" y="339.80" width="2.1" height="5.50" fill="#f23645"/>
<rect x="592.15" y="262.50" width="0.9" height="87.50" fill="#089981"/>
<rect x="591.55" y="280.00" width="2.1" height="65.60" fill="#089981"/>
<rect x="594.75" y="271.00" width="0.9" height="15.00" fill="#f23645"/>
<rect x="594.15" y="280.00" width="2.1" height="3.00" fill="#f23645"/>
<rect x="597.35" y="263.00" width="0.9" height="21.50" fill="#089981"/>
<rect x="596.75" y="278.00" width="2.1" height="6.00" fill="#089981"/>
<rect x="599.55" y="259.00" width="0.9" height="19.00" fill="#089981"/>
<rect x="598.95" y="262.50" width="2.1" height="15.50" fill="#089981"/>
<rect x="602.15" y="262.00" width="0.9" height="47.00" fill="#f23645"/>
<rect x="601.55" y="262.50" width="2.1" height="26.50" fill="#f23645"/>
<rect x="604.85" y="273.80" width="0.9" height="31.20" fill="#f23645"/>
<rect x="604.25" y="289.00" width="2.1" height="5.00" fill="#f23645"/>
<rect x="607.35" y="264.00" width="0.9" height="32.00" fill="#089981"/>
<rect x="606.75" y="267.00" width="2.1" height="27.00" fill="#089981"/>
<rect x="610.05" y="266.00" width="0.9" height="5.00" fill="#f23645"/>
<rect x="609.45" y="267.00" width="2.1" height="4.00" fill="#f23645"/>
<rect x="612.55" y="253.00" width="0.9" height="22.00" fill="#089981"/>
<rect x="611.95" y="262.50" width="2.1" height="6.25" fill="#089981"/>
<rect x="615.15" y="229.70" width="0.9" height="50.00" fill="#f23645"/>
<rect x="614.55" y="262.50" width="2.1" height="9.50" fill="#f23645"/>
<rect x="617.85" y="262.50" width="0.9" height="44.50" fill="#f23645"/>
<rect x="617.25" y="272.00" width="2.1" height="30.70" fill="#f23645"/>
<rect x="620.55" y="261.70" width="0.9" height="69.10" fill="#089981"/>
<rect x="619.95" y="272.00" width="2.1" height="30.70" fill="#089981"/>
<rect x="623.30" y="261.70" width="0.9" height="19.30" fill="#089981"/>
<rect x="622.70" y="271.00" width="2.1" height="1.60" fill="#089981"/>
<rect x="625.95" y="261.00" width="0.9" height="17.00" fill="#089981"/>
<rect x="625.35" y="268.75" width="2.1" height="3.15" fill="#089981"/>
<rect x="628.75" y="255.50" width="0.9" height="14.50" fill="#089981"/>
<rect x="628.15" y="264.00" width="2.1" height="5.50" fill="#089981"/>
<rect x="630.80" y="237.50" width="0.9" height="29.50" fill="#089981"/>
<rect x="630.20" y="237.50" width="2.1" height="26.50" fill="#089981"/>
<rect x="633.55" y="220.00" width="0.9" height="23.75" fill="#089981"/>
<rect x="632.95" y="228.00" width="2.1" height="9.50" fill="#089981"/>
<rect x="636.15" y="202.30" width="0.9" height="32.10" fill="#089981"/>
<rect x="635.55" y="211.70" width="2.1" height="16.30" fill="#089981"/>
<rect x="638.55" y="211.70" width="0.9" height="19.30" fill="#f23645"/>
<rect x="637.95" y="211.70" width="2.1" height="17.30" fill="#f23645"/>
<rect x="641.55" y="211.00" width="0.9" height="18.00" fill="#089981"/>
<rect x="640.95" y="214.80" width="2.1" height="14.20" fill="#089981"/>
<rect x="644.05" y="212.50" width="0.9" height="15.50" fill="#f23645"/>
<rect x="643.45" y="214.80" width="2.1" height="13.20" fill="#f23645"/>
<rect x="646.45" y="223.40" width="0.9" height="38.30" fill="#f23645"/>
<rect x="645.85" y="227.30" width="2.1" height="32.10" fill="#f23645"/>
<rect x="649.05" y="239.00" width="0.9" height="20.40" fill="#089981"/>
<rect x="648.45" y="243.75" width="2.1" height="15.65" fill="#089981"/>
<rect x="651.75" y="232.00" width="0.9" height="33.00" fill="#f23645"/>
<rect x="651.15" y="243.75" width="2.1" height="3.25" fill="#f23645"/>
<rect x="654.55" y="246.00" width="0.9" height="29.80" fill="#f23645"/>
<rect x="653.95" y="247.00" width="2.1" height="28.00" fill="#f23645"/>
<rect x="657.25" y="270.00" width="0.9" height="21.00" fill="#f23645"/>
<rect x="656.65" y="275.00" width="2.1" height="9.40" fill="#f23645"/>
<rect x="659.75" y="257.80" width="0.9" height="26.90" fill="#089981"/>
<rect x="659.15" y="266.40" width="2.1" height="18.00" fill="#089981"/>
<rect x="662.05" y="250.80" width="0.9" height="26.50" fill="#f23645"/>
<rect x="661.45" y="266.40" width="2.1" height="2.35" fill="#f23645"/>
<rect x="664.75" y="252.00" width="0.9" height="21.40" fill="#f23645"/>
<rect x="664.15" y="267.00" width="2.1" height="2.50" fill="#f23645"/>
<rect x="667.35" y="267.00" width="0.9" height="42.70" fill="#f23645"/>
<rect x="666.75" y="268.75" width="2.1" height="19.05" fill="#f23645"/>
<rect x="669.85" y="279.80" width="0.9" height="9.40" fill="#089981"/>
<rect x="669.25" y="286.30" width="2.1" height="2.00" fill="#089981"/>
<rect x="672.65" y="277.00" width="0.9" height="15.50" fill="#089981"/>
<rect x="672.05" y="278.00" width="2.1" height="9.50" fill="#089981"/>
<rect x="675.15" y="273.00" width="0.9" height="12.60" fill="#f23645"/>
<rect x="674.55" y="278.00" width="2.1" height="2.00" fill="#f23645"/>
<rect x="677.55" y="268.20" width="0.9" height="26.30" fill="#089981"/>
<rect x="676.95" y="274.50" width="2.1" height="5.50" fill="#089981"/>
<rect x="680.35" y="247.00" width="0.9" height="83.00" fill="#f23645"/>
<rect x="679.75" y="274.00" width="2.1" height="29.40" fill="#f23645"/>
<rect x="682.95" y="276.60" width="0.9" height="40.10" fill="#089981"/>
<rect x="682.35" y="285.00" width="2.1" height="18.40" fill="#089981"/>
<rect x="685.80" y="268.75" width="0.9" height="16.75" fill="#089981"/>
<rect x="685.20" y="278.00" width="2.1" height="7.00" fill="#089981"/>
<rect x="688.55" y="275.00" width="0.9" height="15.60" fill="#f23645"/>
<rect x="687.95" y="278.00" width="2.1" height="12.00" fill="#f23645"/>
<rect x="690.95" y="283.00" width="0.9" height="10.75" fill="#089981"/>
<rect x="690.35" y="287.00" width="2.1" height="3.00" fill="#089981"/>
<rect x="693.25" y="272.00" width="0.9" height="20.00" fill="#089981"/>
<rect x="692.65" y="286.00" width="2.1" height="3.00" fill="#089981"/>
<rect x="695.95" y="283.60" width="0.9" height="68.40" fill="#f23645"/>
<rect x="695.35" y="286.00" width="2.1" height="66.00" fill="#f23645"/>
<rect x="698.55" y="320.00" width="0.9" height="43.60" fill="#089981"/>
<rect x="697.95" y="323.75" width="2.1" height="28.25" fill="#089981"/>
<rect x="701.15" y="315.00" width="0.9" height="15.00" fill="#f23645"/>
<rect x="700.55" y="323.75" width="2.1" height="4.65" fill="#f23645"/>
<rect x="704.05" y="329.00" width="0.9" height="10.90" fill="#f23645"/>
<rect x="703.45" y="329.50" width="2.1" height="6.00" fill="#f23645"/>
<rect x="706.55" y="323.75" width="0.9" height="11.75" fill="#089981"/>
<rect x="705.95" y="324.50" width="2.1" height="8.50" fill="#089981"/>
<rect x="708.95" y="298.00" width="0.9" height="33.50" fill="#089981"/>
<rect x="708.35" y="319.00" width="2.1" height="5.50" fill="#089981"/>
<rect x="711.55" y="298.75" width="0.9" height="26.25" fill="#089981"/>
<rect x="710.95" y="298.75" width="2.1" height="20.25" fill="#089981"/>
<rect x="714.25" y="289.40" width="0.9" height="37.60" fill="#f23645"/>
<rect x="713.65" y="298.75" width="2.1" height="25.00" fill="#f23645"/>
<rect x="717.05" y="314.00" width="0.9" height="14.00" fill="#f23645"/>
<rect x="716.45" y="314.40" width="2.1" height="10.60" fill="#f23645"/>
<rect x="719.55" y="317.50" width="0.9" height="6.25" fill="#089981"/>
<rect x="718.95" y="320.00" width="2.1" height="2.00" fill="#089981"/>
<rect x="722.05" y="317.50" width="0.9" height="6.25" fill="#089981"/>
<rect x="721.45" y="320.00" width="2.1" height="2.00" fill="#089981"/>
<rect x="724.55" y="298.75" width="0.9" height="30.25" fill="#089981"/>
<rect x="723.95" y="301.00" width="2.1" height="18.00" fill="#089981"/>
<rect x="727.25" y="294.00" width="0.9" height="17.00" fill="#f23645"/>
<rect x="726.65" y="301.00" width="2.1" height="5.60" fill="#f23645"/>
<rect x="729.85" y="294.80" width="0.9" height="28.95" fill="#f23645"/>
<rect x="729.25" y="306.60" width="2.1" height="14.80" fill="#f23645"/>
<rect x="732.35" y="318.00" width="0.9" height="12.80" fill="#f23645"/>
<rect x="731.75" y="319.40" width="2.1" height="6.40" fill="#f23645"/>
<rect x="735.05" y="319.00" width="0.9" height="11.00" fill="#f23645"/>
<rect x="734.45" y="324.50" width="2.1" height="4.50" fill="#f23645"/>
<rect x="737.75" y="312.00" width="0.9" height="17.50" fill="#089981"/>
<rect x="737.15" y="319.40" width="2.1" height="9.60" fill="#089981"/>
<rect x="740.35" y="307.70" width="0.9" height="20.70" fill="#089981"/>
<rect x="739.75" y="314.00" width="2.1" height="6.60" fill="#089981"/>
<rect x="742.85" y="226.00" width="0.9" height="94.60" fill="#089981"/>
<rect x="742.25" y="244.00" width="2.1" height="69.60" fill="#089981"/>
<rect x="745.35" y="212.00" width="0.9" height="47.70" fill="#089981"/>
<rect x="744.75" y="227.70" width="2.1" height="17.30" fill="#089981"/>
<rect x="748.30" y="220.60" width="0.9" height="29.70" fill="#f23645"/>
<rect x="747.70" y="228.40" width="2.1" height="21.10" fill="#f23645"/>
<rect x="750.80" y="243.00" width="0.9" height="15.00" fill="#f23645"/>
<rect x="750.20" y="249.50" width="2.1" height="0.80" fill="#f23645"/>
<rect x="753.05" y="249.50" width="0.9" height="14.90" fill="#f23645"/>
<rect x="752.45" y="250.30" width="2.1" height="10.20" fill="#f23645"/>
<rect x="755.55" y="230.00" width="0.9" height="33.60" fill="#089981"/>
<rect x="754.95" y="231.50" width="2.1" height="29.00" fill="#089981"/>
<rect x="758.15" y="230.00" width="0.9" height="27.30" fill="#f23645"/>
<rect x="757.55" y="231.50" width="2.1" height="4.00" fill="#f23645"/>
<rect x="760.95" y="227.70" width="0.9" height="28.90" fill="#f23645"/>
<rect x="760.35" y="235.50" width="2.1" height="6.20" fill="#f23645"/>
<rect x="763.55" y="241.00" width="0.9" height="21.00" fill="#f23645"/>
<rect x="762.95" y="241.70" width="2.1" height="14.90" fill="#f23645"/>
<rect x="766.45" y="255.00" width="0.9" height="11.70" fill="#f23645"/>
<rect x="765.85" y="255.00" width="2.1" height="7.80" fill="#f23645"/>
<rect x="768.75" y="257.30" width="0.9" height="9.40" fill="#089981"/>
<rect x="768.15" y="261.20" width="2.1" height="2.40" fill="#089981"/>
<rect x="771.15" y="246.40" width="0.9" height="25.60" fill="#f23645"/>
<rect x="770.55" y="261.20" width="2.1" height="6.30" fill="#f23645"/>
<rect x="773.65" y="266.70" width="0.9" height="38.30" fill="#f23645"/>
<rect x="773.05" y="267.50" width="2.1" height="35.90" fill="#f23645"/>
<rect x="776.55" y="286.00" width="0.9" height="24.50" fill="#089981"/>
<rect x="775.95" y="294.80" width="2.1" height="9.20" fill="#089981"/>
<rect x="779.15" y="284.70" width="0.9" height="12.30" fill="#089981"/>
<rect x="778.55" y="293.00" width="2.1" height="2.60" fill="#089981"/>
<rect x="781.85" y="284.00" width="0.9" height="14.75" fill="#089981"/>
<rect x="781.25" y="288.00" width="2.1" height="6.00" fill="#089981"/>
<rect x="784.35" y="285.50" width="0.9" height="20.30" fill="#f23645"/>
<rect x="783.75" y="287.00" width="2.1" height="15.00" fill="#f23645"/>
<rect x="786.95" y="300.00" width="0.9" height="27.00" fill="#f23645"/>
<rect x="786.35" y="303.40" width="2.1" height="21.10" fill="#f23645"/>
<rect x="789.55" y="302.70" width="0.9" height="35.90" fill="#089981"/>
<rect x="788.95" y="316.70" width="2.1" height="7.80" fill="#089981"/>
<rect x="792.25" y="305.80" width="0.9" height="14.20" fill="#f23645"/>
<rect x="791.65" y="316.00" width="2.1" height="4.00" fill="#f23645"/>
<rect x="795.05" y="319.00" width="0.9" height="18.00" fill="#f23645"/>
<rect x="794.45" y="319.00" width="2.1" height="18.00" fill="#f23645"/>
<rect x="797.35" y="333.00" width="0.9" height="12.00" fill="#f23645"/>
<rect x="796.75" y="337.00" width="2.1" height="8.00" fill="#f23645"/>
<rect x="800.05" y="334.00" width="0.9" height="12.40" fill="#089981"/>
<rect x="799.45" y="337.80" width="2.1" height="7.20" fill="#089981"/>
<rect x="802.55" y="335.50" width="0.9" height="25.50" fill="#f23645"/>
<rect x="801.95" y="337.80" width="2.1" height="8.60" fill="#f23645"/>
<rect x="805.15" y="335.50" width="0.9" height="22.50" fill="#089981"/>
<rect x="804.55" y="336.25" width="2.1" height="10.15" fill="#089981"/>
<rect x="807.85" y="301.00" width="0.9" height="35.00" fill="#089981"/>
<rect x="807.25" y="321.40" width="2.1" height="14.10" fill="#089981"/>
<rect x="810.55" y="308.00" width="0.9" height="13.40" fill="#089981"/>
<rect x="809.95" y="315.20" width="2.1" height="6.20" fill="#089981"/>
<rect x="813.30" y="306.60" width="0.9" height="10.10" fill="#089981"/>
<rect x="812.70" y="307.30" width="2.1" height="7.90" fill="#089981"/>
<rect x="815.55" y="298.75" width="0.9" height="11.75" fill="#089981"/>
<rect x="814.95" y="299.50" width="2.1" height="7.10" fill="#089981"/>
<rect x="818.15" y="287.00" width="0.9" height="35.00" fill="#f23645"/>
<rect x="817.55" y="300.30" width="2.1" height="9.40" fill="#f23645"/>
<rect x="820.80" y="303.40" width="0.9" height="36.00" fill="#f23645"/>
<rect x="820.20" y="309.00" width="2.1" height="23.30" fill="#f23645"/>
<rect x="823.55" y="312.80" width="0.9" height="36.70" fill="#f23645"/>
<rect x="822.95" y="331.50" width="2.1" height="12.50" fill="#f23645"/>
<rect x="825.95" y="318.00" width="0.9" height="27.60" fill="#089981"/>
<rect x="825.35" y="341.00" width="2.1" height="3.00" fill="#089981"/>
<rect x="828.55" y="333.00" width="0.9" height="8.70" fill="#089981"/>
<rect x="827.95" y="337.80" width="2.1" height="3.90" fill="#089981"/>
<rect x="831.25" y="337.80" width="0.9" height="10.95" fill="#f23645"/>
<rect x="830.65" y="338.60" width="2.1" height="6.20" fill="#f23645"/>
<rect x="833.85" y="334.00" width="0.9" height="35.40" fill="#089981"/>
<rect x="833.25" y="340.00" width="2.1" height="4.80" fill="#089981"/>
<rect x="836.45" y="322.00" width="0.9" height="24.40" fill="#089981"/>
<rect x="835.85" y="338.60" width="2.1" height="1.40" fill="#089981"/>
<rect x="839.05" y="337.80" width="0.9" height="64.20" fill="#f23645"/>
<rect x="838.45" y="338.60" width="2.1" height="63.40" fill="#f23645"/>
<rect x="841.75" y="398.00" width="0.9" height="10.40" fill="#f23645"/>
<rect x="841.15" y="402.00" width="2.1" height="4.90" fill="#f23645"/>
<rect x="844.35" y="403.00" width="0.9" height="16.40" fill="#f23645"/>
<rect x="843.75" y="407.70" width="2.1" height="11.70" fill="#f23645"/>
<rect x="846.45" y="408.40" width="0.9" height="17.20" fill="#f23645"/>
<rect x="845.85" y="419.40" width="2.1" height="2.30" fill="#f23645"/>
<rect x="849.25" y="408.40" width="0.9" height="25.00" fill="#f23645"/>
<rect x="848.65" y="421.70" width="2.1" height="3.10" fill="#f23645"/>
<rect x="852.05" y="424.00" width="0.9" height="46.00" fill="#f23645"/>
<rect x="851.45" y="424.80" width="2.1" height="27.50" fill="#f23645"/>
<rect x="854.85" y="446.70" width="0.9" height="36.80" fill="#f23645"/>
<rect x="854.25" y="452.30" width="2.1" height="12.40" fill="#f23645"/>
<rect x="857.55" y="459.50" width="0.9" height="13.00" fill="#f23645"/>
<rect x="856.95" y="464.70" width="2.1" height="1.30" fill="#f23645"/>
<rect x="860.05" y="462.00" width="0.9" height="13.00" fill="#f23645"/>
<rect x="859.45" y="465.30" width="2.1" height="9.70" fill="#f23645"/>
<rect x="862.15" y="458.00" width="0.9" height="17.70" fill="#089981"/>
<rect x="861.55" y="462.00" width="2.1" height="13.00" fill="#089981"/>
<rect x="865.05" y="458.00" width="0.9" height="30.00" fill="#f23645"/>
<rect x="864.45" y="462.00" width="2.1" height="9.20" fill="#f23645"/>
<rect x="867.55" y="466.00" width="0.9" height="17.50" fill="#089981"/>
<rect x="866.95" y="468.60" width="2.1" height="2.60" fill="#089981"/>
<rect x="870.55" y="464.00" width="0.9" height="46.00" fill="#f23645"/>
<rect x="869.95" y="468.60" width="2.1" height="24.40" fill="#f23645"/>
<rect x="872.75" y="492.00" width="0.9" height="13.60" fill="#f23645"/>
<rect x="872.15" y="492.00" width="2.1" height="6.40" fill="#f23645"/>
<rect x="875.75" y="488.00" width="0.9" height="14.30" fill="#089981"/>
<rect x="875.15" y="492.00" width="2.1" height="5.80" fill="#089981"/>
<rect x="877.95" y="486.80" width="0.9" height="6.45" fill="#089981"/>
<rect x="877.35" y="489.00" width="2.1" height="3.00" fill="#089981"/>
</g>
<text x="1009.2" y="61.9" font-size="8.4" fill="#3c3f48" text-anchor="end" font-weight="normal" textLength="28.1" lengthAdjust="spacingAndGlyphs">1.25500</text>
<text x="1009.2" y="89.9" font-size="8.4" fill="#3c3f48" text-anchor="end" font-weight="normal" textLength="28.1" lengthAdjust="spacingAndGlyphs">1.25000</text>
<text x="1009.2" y="117.9" font-size="8.4" fill="#3c3f48" text-anchor="end" font-weight="normal" textLength="28.1" lengthAdjust="spacingAndGlyphs">1.24500</text>
<text x="1009.2" y="145.9" font-size="8.4" fill="#3c3f48" text-anchor="end" font-weight="normal" textLength="28.1" lengthAdjust="spacingAndGlyphs">1.24000</text>
<text x="1009.2" y="173.8" font-size="8.4" fill="#3c3f48" text-anchor="end" font-weight="normal" textLength="28.1" lengthAdjust="spacingAndGlyphs">1.23500</text>
<text x="1009.2" y="201.8" font-size="8.4" fill="#3c3f48" text-anchor="end" font-weight="normal" textLength="28.1" lengthAdjust="spacingAndGlyphs">1.23000</text>
<text x="1009.2" y="229.8" font-size="8.4" fill="#3c3f48" text-anchor="end" font-weight="normal" textLength="28.1" lengthAdjust="spacingAndGlyphs">1.22500</text>
<text x="1009.2" y="257.8" font-size="8.4" fill="#3c3f48" text-anchor="end" font-weight="normal" textLength="28.1" lengthAdjust="spacingAndGlyphs">1.22000</text>
<text x="1009.2" y="285.8" font-size="8.4" fill="#3c3f48" text-anchor="end" font-weight="normal" textLength="28.1" lengthAdjust="spacingAndGlyphs">1.21500</text>
<text x="1009.2" y="313.8" font-size="8.4" fill="#3c3f48" text-anchor="end" font-weight="normal" textLength="28.1" lengthAdjust="spacingAndGlyphs">1.21000</text>
<text x="1009.2" y="341.7" font-size="8.4" fill="#3c3f48" text-anchor="end" font-weight="normal" textLength="28.1" lengthAdjust="spacingAndGlyphs">1.20500</text>
<text x="1009.2" y="397.7" font-size="8.4" fill="#3c3f48" text-anchor="end" font-weight="normal" textLength="28.1" lengthAdjust="spacingAndGlyphs">1.19500</text>
<text x="1009.2" y="425.7" font-size="8.4" fill="#3c3f48" text-anchor="end" font-weight="normal" textLength="28.1" lengthAdjust="spacingAndGlyphs">1.19000</text>
<text x="1009.2" y="453.7" font-size="8.4" fill="#3c3f48" text-anchor="end" font-weight="normal" textLength="28.1" lengthAdjust="spacingAndGlyphs">1.18500</text>
<text x="1009.2" y="481.7" font-size="8.4" fill="#3c3f48" text-anchor="end" font-weight="normal" textLength="28.1" lengthAdjust="spacingAndGlyphs">1.18000</text>
<text x="1009.2" y="537.6" font-size="8.4" fill="#3c3f48" text-anchor="end" font-weight="normal" textLength="28.1" lengthAdjust="spacingAndGlyphs">1.17000</text>
<text x="1009.2" y="565.6" font-size="8.4" fill="#3c3f48" text-anchor="end" font-weight="normal" textLength="28.1" lengthAdjust="spacingAndGlyphs">1.16500</text>
<text x="980.9" y="30.8" font-size="8.8" fill="#3c3f48" text-anchor="start" font-weight="normal" textLength="13.8" lengthAdjust="spacingAndGlyphs">USD</text>
<rect x="974" y="203.2" width="39.6" height="11.300000000000011" rx="1" fill="#f44336"/>
<text x="1009.2" y="211.9" font-size="8.6" fill="#ffffff" text-anchor="end" font-weight="bold" textLength="28.2" lengthAdjust="spacingAndGlyphs">1.22827</text>
<rect x="974" y="358.6" width="39.6" height="11.099999999999966" rx="1" fill="#f44336"/>
<text x="1009.2" y="367.2" font-size="8.6" fill="#ffffff" text-anchor="end" font-weight="bold" textLength="28.2" lengthAdjust="spacingAndGlyphs">1.20046</text>
<rect x="974" y="486.3" width="39.6" height="11.300000000000011" rx="1" fill="#139a82"/>
<text x="1009.2" y="495.1" font-size="8.6" fill="#ffffff" text-anchor="end" font-weight="bold" textLength="28.2" lengthAdjust="spacingAndGlyphs">1.17759</text>
<rect x="974" y="497.6" width="39.6" height="11.399999999999977" rx="1" fill="#388e3c"/>
<text x="1009.2" y="506.4" font-size="8.6" fill="#ffffff" text-anchor="end" font-weight="bold" textLength="28.2" lengthAdjust="spacingAndGlyphs">1.17606</text>
<text x="14.7" y="585.5" font-size="8.6" fill="#3c3f48" text-anchor="middle" font-weight="normal" textLength="4.1" lengthAdjust="spacingAndGlyphs">7</text>
<text x="79.9" y="585.5" font-size="8.6" fill="#3c3f48" text-anchor="middle" font-weight="normal" textLength="8.5" lengthAdjust="spacingAndGlyphs">13</text>
<text x="157.6" y="585.5" font-size="8.6" fill="#3c3f48" text-anchor="middle" font-weight="normal" textLength="8.5" lengthAdjust="spacingAndGlyphs">20</text>
<text x="236" y="585.5" font-size="8.6" fill="#3c3f48" text-anchor="middle" font-weight="normal" textLength="8.6" lengthAdjust="spacingAndGlyphs">27</text>
<text x="295.6" y="585.5" font-size="8.6" fill="#3c3f48" text-anchor="middle" font-weight="bold" textLength="12.4" lengthAdjust="spacingAndGlyphs">Jul</text>
<text x="392" y="585.5" font-size="8.6" fill="#3c3f48" text-anchor="middle" font-weight="normal" textLength="7.3" lengthAdjust="spacingAndGlyphs">11</text>
<text x="470.5" y="585.5" font-size="8.6" fill="#3c3f48" text-anchor="middle" font-weight="normal" textLength="8.5" lengthAdjust="spacingAndGlyphs">18</text>
<text x="547.8" y="585.5" font-size="8.6" fill="#3c3f48" text-anchor="middle" font-weight="normal" textLength="8.8" lengthAdjust="spacingAndGlyphs">25</text>
<text x="626" y="585.5" font-size="8.6" fill="#3c3f48" text-anchor="middle" font-weight="bold" textLength="14.6" lengthAdjust="spacingAndGlyphs">Aug</text>
<text x="704.3" y="585.5" font-size="8.6" fill="#3c3f48" text-anchor="middle" font-weight="normal" textLength="3.9" lengthAdjust="spacingAndGlyphs">8</text>
<text x="782.4" y="585.5" font-size="8.6" fill="#3c3f48" text-anchor="middle" font-weight="normal" textLength="8.5" lengthAdjust="spacingAndGlyphs">15</text>
<text x="860" y="585.5" font-size="8.6" fill="#3c3f48" text-anchor="middle" font-weight="normal" textLength="8.2" lengthAdjust="spacingAndGlyphs">22</text>
<text x="920.3" y="585.5" font-size="8.6" fill="#3c3f48" text-anchor="middle" font-weight="normal" textLength="8.6" lengthAdjust="spacingAndGlyphs">26</text>
<rect x="6.5" y="18.5" width="1010.5" height="573.5" fill="none" stroke="#e6e8ee" stroke-width="1"/>
<text x="7" y="12.9" font-size="8.05" fill="#3f424b" text-anchor="start" font-weight="normal" textLength="258" lengthAdjust="spacingAndGlyphs" stroke="#3f424b" stroke-width="0.22">desmondlzw published on TradingView.com, Aug 23, 2022 09:30 UTC+8</text>
<text x="12.7" y="31.0" font-size="8.2" fill="#3f424b" text-anchor="start" font-weight="normal" textLength="32.2" lengthAdjust="spacingAndGlyphs" stroke="#3f424b" stroke-width="0.22">Ichimoku</text>
<g fill="#131722">
<rect x="6.9" y="600.1" width="5.2" height="2.5"/>
<rect x="9.1" y="600.1" width="2.7" height="6.6"/>
<circle cx="14" cy="601.5" r="1.3"/>
<polygon points="16.5,600.1 19.8,600.1 17.3,606.7 14.7,606.7"/>
</g>
<text x="23" y="607.1" font-size="9.2" fill="#50535e" text-anchor="start" font-weight="normal" textLength="46.8" lengthAdjust="spacingAndGlyphs">TradingView</text>
</svg></body></html>
